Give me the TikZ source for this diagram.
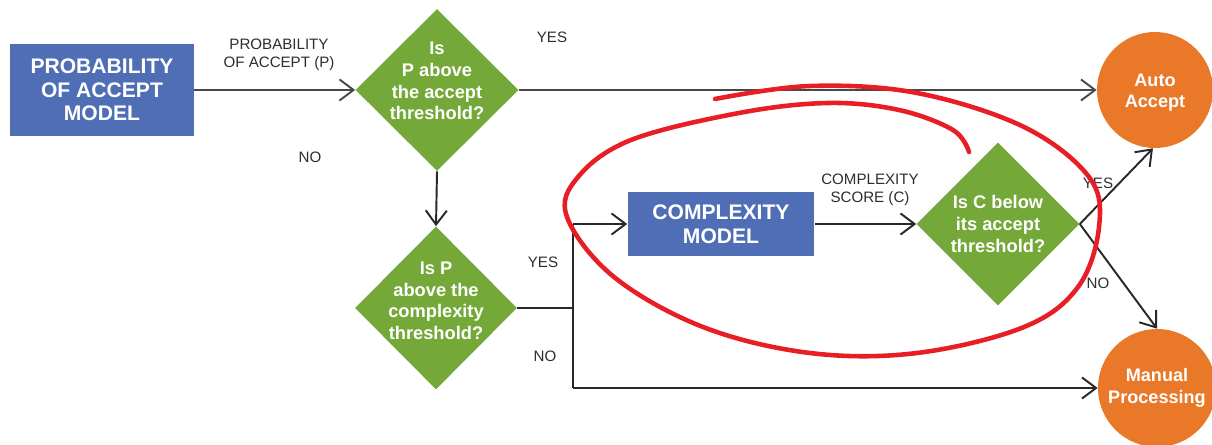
\documentclass[tikz,border=0pt]{standalone}
\usepackage{fontspec}
\setmainfont{Liberation Sans}
\usetikzlibrary{shapes.geometric,arrows.meta}
\definecolor{boxblue}{RGB}{79,110,182}
\definecolor{dgreen}{RGB}{116,168,56}
\definecolor{corange}{RGB}{233,121,40}
\definecolor{linec}{RGB}{40,40,40}
\definecolor{labc}{RGB}{45,45,45}
\definecolor{annred}{RGB}{232,30,38}
\tikzset{
  bluebox/.style={rectangle, fill=boxblue, text=white, font=\fontsize{12}{13.5}\selectfont\bfseries, align=center, inner sep=0pt},
  dia/.style={diamond, fill=dgreen, inner sep=0pt},
  diatext/.style={text=white, font=\fontsize{10.4}{12.3}\selectfont\bfseries, align=center},
  endcirc/.style={circle, fill=corange, inner sep=0pt, text=white, font=\fontsize{10.3}{12.3}\selectfont\bfseries, align=center},
  arr/.style={draw=linec, line width=1.1pt, -{Straight Barb[length=8pt,width=12pt,line width=1.1pt]}},
  thickarr/.style={arr, draw=linec!85!white, line width=1.6pt},
  plainline/.style={draw=linec, line width=1.1pt},
  lab/.style={text=labc, font=\fontsize{8.6}{10.3}\selectfont, align=center, inner sep=0pt},
  annot/.style={draw=annred, line width=2.6pt, line cap=round, line join=round}
}
\begin{document}
\begin{tikzpicture}[x=0.02cm,y=-0.02cm]
\useasboundingbox (0,0) rectangle (1212,445);

% nodes
\node[bluebox, minimum width=3.68cm, minimum height=1.84cm] (pm) at (102,90) {PROBABILITY\\OF ACCEPT\\MODEL};
\node[dia, minimum width=3.26cm, minimum height=3.24cm,
  label={[diatext, yshift=5pt]center:Is\\P above\\the accept\\threshold?}] (d1) at (437,90) {};
\node[dia, minimum width=3.24cm, minimum height=3.26cm,
  label={[diatext, yshift=4pt]center:Is P\\above the\\complexity\\threshold?}] (d2) at (436,308) {};
\node[bluebox, minimum width=3.74cm, minimum height=1.30cm] (cm) at (721,224) {COMPLEXITY\\MODEL};
\node[dia, minimum width=3.26cm, minimum height=3.26cm,
  label={[diatext]center:Is C below\\its accept\\threshold?}] (d3) at (998,224) {};
\node[endcirc, minimum size=2.32cm,
  label={[text=white, font=\fontsize{10.3}{12.3}\selectfont\bfseries, align=center, yshift=-1.5pt]center:Auto\\Accept}] (aa) at (1155,90) {};
\node[endcirc, minimum size=2.36cm] (mp) at (1157,388) {Manual\\Processing};

\coordinate (j) at (573,308);
\coordinate (jt) at (573,224);
\coordinate (jb) at (573,388);

% connectors
\draw[thickarr] (pm.east) -- (d1.west);
\draw[thickarr] (d1.east) -- (aa.west);
\draw[arr] (d1.south) -- (d2.north);
\draw[plainline] (d2.east) -- (j);
\draw[plainline] (jt) -- (jb);
\draw[arr] (jt) -- (cm.west);
\draw[arr] (jb) -- (mp.west);
\draw[arr] (cm.east) -- (d3.west);
\draw[arr] (d3.east) -- (aa.-92);
\draw[arr] (d3.east) -- (mp.north);

% labels
\node[lab] (l1) at (279,55) {PROBABILITY\\OF ACCEPT (P)};
\node[lab] (l2) at (552,37) {YES};
\node[lab] (l3) at (310,157) {NO};
\node[lab] (l4) at (543,262) {YES};
\node[lab] (l5) at (545,356) {NO};
\node[lab] (l6) at (870,190) {COMPLEXITY\\SCORE (C)};
\node[lab] (l7) at (1098,183) {YES};
\node[lab] (l8) at (1098,283) {NO};

% hand-drawn red annotation
\draw[annot] plot[smooth, tension=0.6] coordinates {
  (715,99) (810,86) (917,93) (1024,127) (1089,177) (1099,227) (1078,287)
  (1024,327) (917,353) (810,353) (703,327) (614,277) (567,217) (578,177)
  (631,140) (739,113) (828,103) (899,110) (953,130) (969,152)};
\end{tikzpicture}
\end{document}
